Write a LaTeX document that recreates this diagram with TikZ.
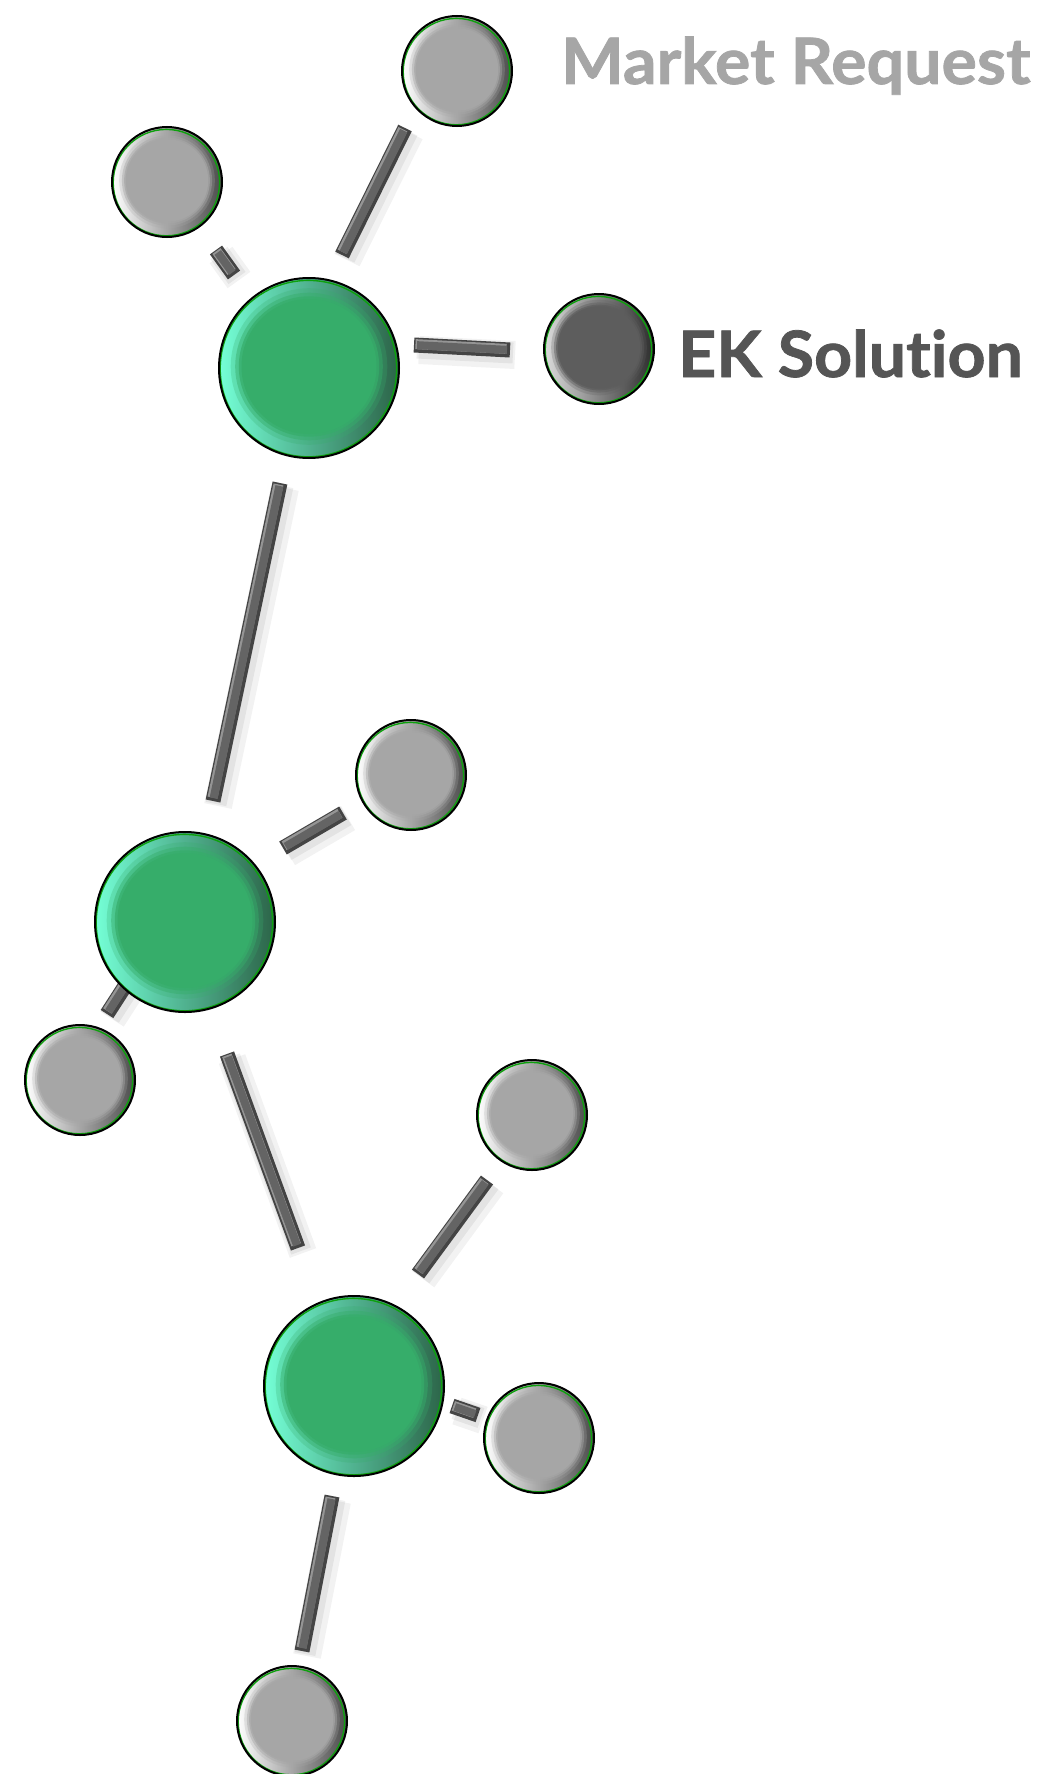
\documentclass[tikz,border=0pt]{standalone}
\usepackage{fontspec}
\newfontfamily\labelfont{Lato}[Ligatures={NoCommon,NoRare}, FakeBold=1.2, FakeStretch=1.035]
\definecolor{gfill}{HTML}{36AD6A}
\definecolor{glight}{HTML}{74FFD6}
\definecolor{gmid}{HTML}{4CC487}
\definecolor{gdark}{HTML}{2C6448}
\definecolor{sfill}{HTML}{A6A6A6}
\definecolor{slight}{HTML}{FFFFFF}
\definecolor{smid}{HTML}{D2D2D2}
\definecolor{sdark}{HTML}{4C4C4C}
\definecolor{efill}{HTML}{5D5D5D}
\definecolor{elight}{HTML}{DCDCDC}
\definecolor{emid}{HTML}{8A8A8A}
\definecolor{edark}{HTML}{2C2C2C}
\definecolor{ringgreen}{HTML}{0EA00E}
\definecolor{baredge}{HTML}{444444}
\definecolor{barlight}{HTML}{959595}
\definecolor{barface}{HTML}{646464}
\definecolor{mrtext}{HTML}{A6A6A6}
\definecolor{ektext}{HTML}{555555}
\tikzset{
  ballbase/.style n args={5}{circle, inner sep=0pt, minimum size={2*#1pt}, draw=black, line width=2pt,
    path picture={
      \shade[left color=#2, middle color=#5, right color=#3]
        ([shift={(-#1pt,-#1pt)}]path picture bounding box.center) rectangle
        ([shift={(#1pt,#1pt)}]path picture bounding box.center);
      \fill[#4, opacity=0.25] ([shift={(0pt,1.5pt)}]path picture bounding box.center) circle[radius={0.87*#1pt}];
      \fill[#4, opacity=0.45] ([shift={(0pt,1.5pt)}]path picture bounding box.center) circle[radius={0.82*#1pt}];
      \fill[#4, opacity=0.7] ([shift={(0pt,1.5pt)}]path picture bounding box.center) circle[radius={0.78*#1pt}];
      \fill[#4] ([shift={(0pt,1.5pt)}]path picture bounding box.center) circle[radius={0.75*#1pt}];
      \draw[ringgreen, line width=1.4pt] ([shift={(-0.6pt,-0.6pt)}]path picture bounding box.center) circle[radius={#1pt-1.8pt}];
    }},
  greyball/.style={ballbase={55}{slight}{sdark}{sfill}{smid}},
  darkball/.style={ballbase={55}{elight}{edark}{efill}{emid}},
  bigball/.style={ballbase={90}{glight}{gdark}{gfill}{gmid}},
  bar/.style={draw=baredge, line width=15pt, line cap=butt,
    preaction={draw=black, draw opacity=0.05, line width=28pt, transform canvas={shift={(5pt,-5pt)}}},
    preaction={draw=black, draw opacity=0.06, line width=21pt, transform canvas={shift={(3pt,-3pt)}}},
    postaction={draw=barlight, line width=10pt, shorten <=2.5pt, shorten >=2.5pt, transform canvas={shift={(-1pt,1pt)}}},
    postaction={draw=barface, line width=8pt, shorten <=3pt, shorten >=3pt}},
  label/.style={anchor=base west, inner sep=0pt, font=\labelfont\bfseries\fontsize{64}{70}\selectfont}
}
\begin{document}
\begin{tikzpicture}[x=1pt,y=-1pt]
\useasboundingbox (0,0) rectangle (1057,1774);
\fill[white] (0,0) rectangle (1057,1774);
% bar end points
\coordinate (b1s) at (342,255);  \coordinate (b1e) at (405,128);
\coordinate (b2s) at (216,250);  \coordinate (b2e) at (234,275);
\coordinate (b3s) at (414,345);  \coordinate (b3e) at (510,350);
\coordinate (b4s) at (280,483);  \coordinate (b4e) at (213,801);
\coordinate (b5s) at (283,848);  \coordinate (b5e) at (343,813);
\coordinate (b6s) at (127,983);  \coordinate (b6e) at (107,1014);
\coordinate (b7s) at (227,1054); \coordinate (b7e) at (298,1248);
\coordinate (b8s) at (487,1180); \coordinate (b8e) at (418,1274);
\coordinate (b9s) at (452,1406); \coordinate (b9e) at (478,1415);
\coordinate (b10s) at (332,1496); \coordinate (b10e) at (302,1651);
% bars
\draw[bar] (b1s) -- (b1e);
\draw[bar] (b2s) -- (b2e);
\draw[bar] (b3s) -- (b3e);
\draw[bar] (b4s) -- (b4e);
\draw[bar] (b5s) -- (b5e);
\draw[bar] (b6s) -- (b6e);
\draw[bar] (b7s) -- (b7e);
\draw[bar] (b8s) -- (b8e);
\draw[bar] (b9s) -- (b9e);
\draw[bar] (b10s) -- (b10e);
% balls
\node[greyball] (mr) at (457,71) {};
\node[greyball] (tl) at (167,182) {};
\node[bigball] (g1) at (309,368) {};
\node[darkball] (ek) at (599,349) {};
\node[bigball] (g2) at (185,922) {};
\node[greyball] (r2) at (411,775) {};
\node[greyball] (bl) at (80,1080) {};
\node[greyball] (r3) at (532,1115) {};
\node[bigball] (g3) at (354,1386) {};
\node[greyball] (r4) at (539,1438) {};
\node[greyball] (bot) at (292,1721) {};
% labels
\node[label, text=mrtext] (mrl) at (561,84) {Market Request};
\node[label, text=ektext] (ekl) at (678,377) {EK Solution};
\end{tikzpicture}
\end{document}
